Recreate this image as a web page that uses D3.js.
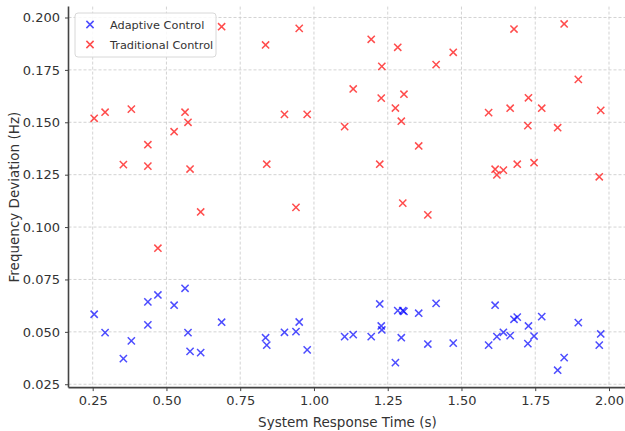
<!DOCTYPE html>
<html lang="en">
<head>
<meta charset="UTF-8">
<title>Frequency Deviation vs Response Time</title>
<script src="https://cdn.jsdelivr.net/npm/d3@7"></script>
<style>
  body { margin: 0; background: #fff; }
  text { font-family: "DejaVu Sans", sans-serif; }
</style>
</head>
<body>
<script>
// response time (s), shared by both series
var responseTime = [0.255, 0.292, 0.354, 0.381, 0.437, 0.437, 0.471, 0.526, 0.563, 0.573,
                    0.580, 0.616, 0.687, 0.836, 0.840, 0.900, 0.939, 0.950, 0.977, 1.104,
                    1.133, 1.194, 1.223, 1.228, 1.230, 1.276, 1.284, 1.296, 1.301, 1.305,
                    1.355, 1.386, 1.414, 1.472, 1.592, 1.614, 1.620, 1.642, 1.665, 1.678,
                    1.689, 1.725, 1.727, 1.746, 1.772, 1.826, 1.848, 1.896, 1.967, 1.972];

var adaptive = [0.0584, 0.0496, 0.0372, 0.0457, 0.0643, 0.0533, 0.0676, 0.0627, 0.0708, 0.0496,
                0.0407, 0.0401, 0.0546, 0.0472, 0.0437, 0.0498, 0.0501, 0.0547, 0.0414, 0.0477,
                0.0487, 0.0477, 0.0633, 0.0528, 0.0509, 0.0353, 0.0601, 0.0472, 0.0601, 0.0598,
                0.0589, 0.0442, 0.0636, 0.0446, 0.0437, 0.0627, 0.0477, 0.0498, 0.0482, 0.0560,
                0.0570, 0.0444, 0.0528, 0.0480, 0.0573, 0.0317, 0.0377, 0.0544, 0.0437, 0.0490];

var traditional = [0.1519, 0.1548, 0.1298, 0.1563, 0.1393, 0.1291, 0.0899, 0.1455, 0.1548, 0.1500,
                   0.1277, 0.1072, 0.1956, 0.1869, 0.1300, 0.1538, 0.1094, 0.1948, 0.1538, 0.1479,
                   0.1659, 0.1896, 0.1300, 0.1615, 0.1767, 0.1568, 0.1858, 0.1505, 0.1114, 0.1634,
                   0.1387, 0.1058, 0.1775, 0.1834, 0.1546, 0.1276, 0.1249, 0.1272, 0.1567, 0.1945,
                   0.1300, 0.1484, 0.1617, 0.1307, 0.1567, 0.1474, 0.1969, 0.1705, 0.1240, 0.1557];

var xTicks = [0.25, 0.50, 0.75, 1.00, 1.25, 1.50, 1.75, 2.00];
var yTicks = [0.025, 0.050, 0.075, 0.100, 0.125, 0.150, 0.175, 0.200];

var seriesNames = ["Adaptive Control", "Traditional Control"];
var seriesColors = ["rgba(0,0,255,0.7)", "rgba(255,0,0,0.7)"];

var width = 625, height = 431;
var pLeft = 68.5, pRight = 626.4, pTop = 6.6, pBottom = 387.6;

var svg = d3.select("body").append("svg")
    .attr("width", width)
    .attr("height", height);

var x = d3.scaleLinear().domain([0.168, 2.059]).range([pLeft, pRight]);
var y = d3.scaleLinear().domain([0.0234, 0.2052]).range([pBottom, pTop]);

// grid
var grid = svg.append("g");
grid.selectAll(".gx").data(xTicks).enter().append("line")
    .attr("x1", d => x(d)).attr("x2", d => x(d))
    .attr("y1", pTop).attr("y2", pBottom)
    .attr("stroke", "#c8c8c8").attr("stroke-width", 0.8)
    .attr("stroke-dasharray", "3,2");
grid.selectAll(".gy").data(yTicks).enter().append("line")
    .attr("x1", pLeft).attr("x2", pRight)
    .attr("y1", d => y(d)).attr("y2", d => y(d))
    .attr("stroke", "#c8c8c8").attr("stroke-width", 0.8)
    .attr("stroke-dasharray", "3,2");

// axes
var xAxis = svg.append("g")
    .attr("transform", "translate(0," + pBottom + ")")
    .call(d3.axisBottom(x).tickValues(xTicks).tickFormat(d3.format(".2f")).tickSize(3.5).tickPadding(5));
var yAxis = svg.append("g")
    .attr("transform", "translate(" + pLeft + ",0)")
    .call(d3.axisLeft(y).tickValues(yTicks).tickFormat(d3.format(".3f")).tickSize(3.5).tickPadding(5));

[xAxis, yAxis].forEach(function(a) {
  a.select(".domain").attr("stroke", "#444").attr("stroke-width", 1.6);
  a.selectAll(".tick line").attr("stroke", "#444").attr("stroke-width", 1);
  a.selectAll(".tick text").attr("fill", "#333").style("font-size", "13px")
    .style("font-family", "DejaVu Sans, sans-serif");
});
// only left + bottom spines show
xAxis.select(".domain").attr("d", "M" + pLeft + ",0H" + width);
yAxis.select(".domain").attr("d", "M0," + pTop + "V" + pBottom);

// markers
var cross = "M-3.6,-3.6L3.6,3.6M-3.6,3.6L3.6,-3.6";
var seriesData = [adaptive, traditional];
seriesData.forEach(function(vals, k) {
  svg.append("g").selectAll("path").data(vals).enter().append("path")
    .attr("d", cross)
    .attr("transform", (d, i) => "translate(" + x(responseTime[i]) + "," + y(d) + ")")
    .attr("stroke", seriesColors[k])
    .attr("stroke-width", 1.5)
    .attr("fill", "none");
});

// axis titles
svg.append("text")
    .attr("x", (pLeft + pRight) / 2).attr("y", 427)
    .attr("text-anchor", "middle")
    .attr("fill", "#333")
    .style("font-size", "13.5px")
    .text("System Response Time (s)");
svg.append("text")
    .attr("transform", "translate(19," + ((pTop + pBottom) / 2) + ") rotate(-90)")
    .attr("text-anchor", "middle")
    .attr("fill", "#333")
    .style("font-size", "13.5px")
    .text("Frequency Deviation (Hz)");

// legend
var legend = svg.append("g").attr("transform", "translate(75,13)");
legend.append("rect")
    .attr("width", 141).attr("height", 44)
    .attr("rx", 3)
    .attr("fill", "rgba(255,255,255,0.85)")
    .attr("stroke", "#d8d8d8");
seriesNames.forEach(function(name, k) {
  var row = legend.append("g").attr("transform", "translate(0," + (11.5 + k * 20) + ")");
  row.append("path")
    .attr("d", cross)
    .attr("transform", "translate(15,0)")
    .attr("stroke", seriesColors[k])
    .attr("stroke-width", 1.5)
    .attr("fill", "none");
  row.append("text")
    .attr("x", 35).attr("y", 4.5)
    .attr("fill", "#333")
    .style("font-size", "11.3px")
    .text(name);
});
</script>
</body>
</html>
